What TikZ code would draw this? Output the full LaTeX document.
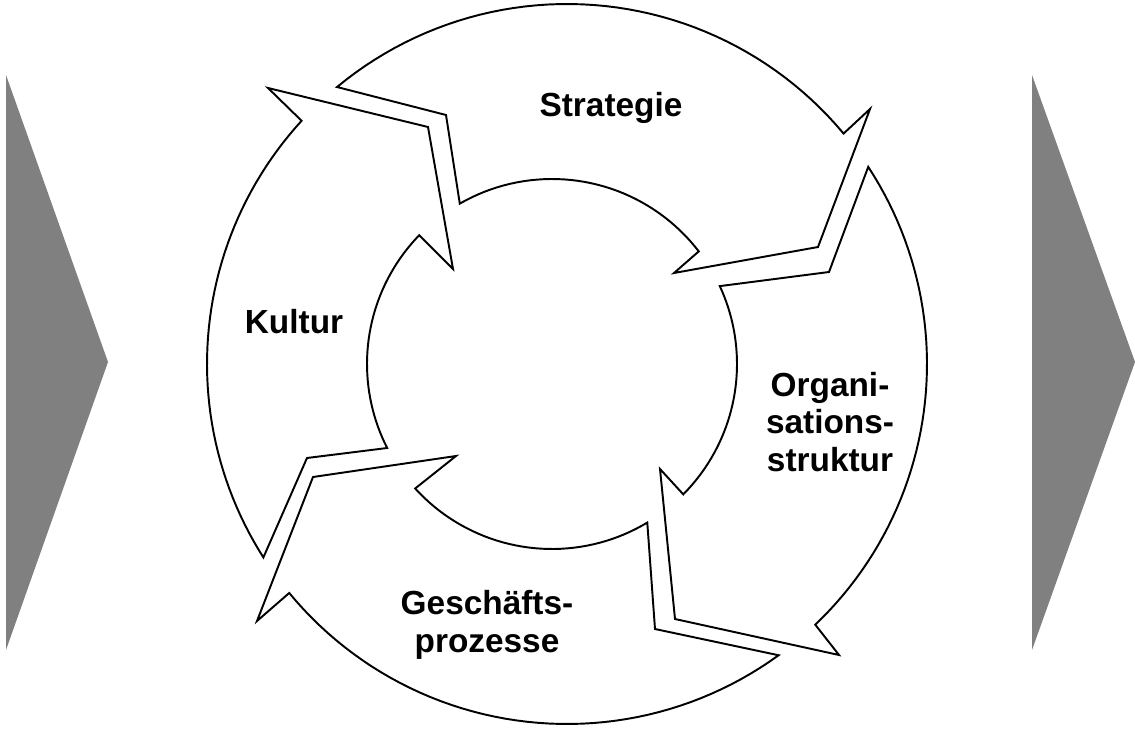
\documentclass[tikz,border=0pt]{standalone}
\usepackage{fontspec}
\setmainfont{Liberation Sans}
\usepackage{xcolor}
\usepackage{tikz}
\usetikzlibrary{positioning}

\begin{document}
\begin{tikzpicture}[x=0.02cm,y=-0.02cm,
    band/.style={draw=black,fill=white,line width=1.1pt,line join=miter},
    chevron/.style={fill=gray},
    lbl/.style={font=\fontsize{19}{21.5}\selectfont\bfseries,align=center}]
    \useasboundingbox (0,0) rectangle (1135,729);

    \fill[chevron] (6,75) -- (108,362) -- (6,650) -- cycle;
    \fill[chevron] (1032,75) -- (1135,362) -- (1032,650) -- cycle;

    \draw[band] plot[domain=-129.7:-39.8,samples=50] ({567+360*cos(\x)},{364+360*sin(\x)})
        -- (870,109) -- (818,247) -- (674,273)
        -- plot[domain=-37.5:-119.9,samples=40] ({552+185*cos(\x)},{364+185*sin(\x)})
        -- (446,115) -- cycle;
    \draw[band] plot[domain=-33.2:46.4,samples=50] ({567+360*cos(\x)},{364+360*sin(\x)})
        -- (839,655) -- (675,619) -- (660,469)
        -- plot[domain=44.8:-24.9,samples=40] ({552+185*cos(\x)},{364+185*sin(\x)})
        -- (829,272) -- cycle;
    \draw[band] plot[domain=54:140.5,samples=50] ({567+360*cos(\x)},{364+360*sin(\x)})
        -- (257,621) -- (313,477) -- (456,456)
        -- plot[domain=137.7:59,samples=40] ({552+185*cos(\x)},{364+185*sin(\x)})
        -- (655,629) -- cycle;
    \draw[band] plot[domain=147.5:222.5,samples=50] ({567+360*cos(\x)},{364+360*sin(\x)})
        -- (268,88) -- (428,127) -- (453,269)
        -- plot[domain=224.1:153,samples=40] ({552+185*cos(\x)},{364+185*sin(\x)})
        -- (307,458) -- cycle;

    \node[lbl] (strat) at (611,108) {Strategie};
    \node[lbl] (kult) at (294,322) {Kultur};
    \node[lbl] (orga) at (830,422) {Organi-\\sations-\\struktur};
    \node[lbl] (gesch) at (487,625) {Geschäfts-\\prozesse};
\end{tikzpicture}
\end{document}
